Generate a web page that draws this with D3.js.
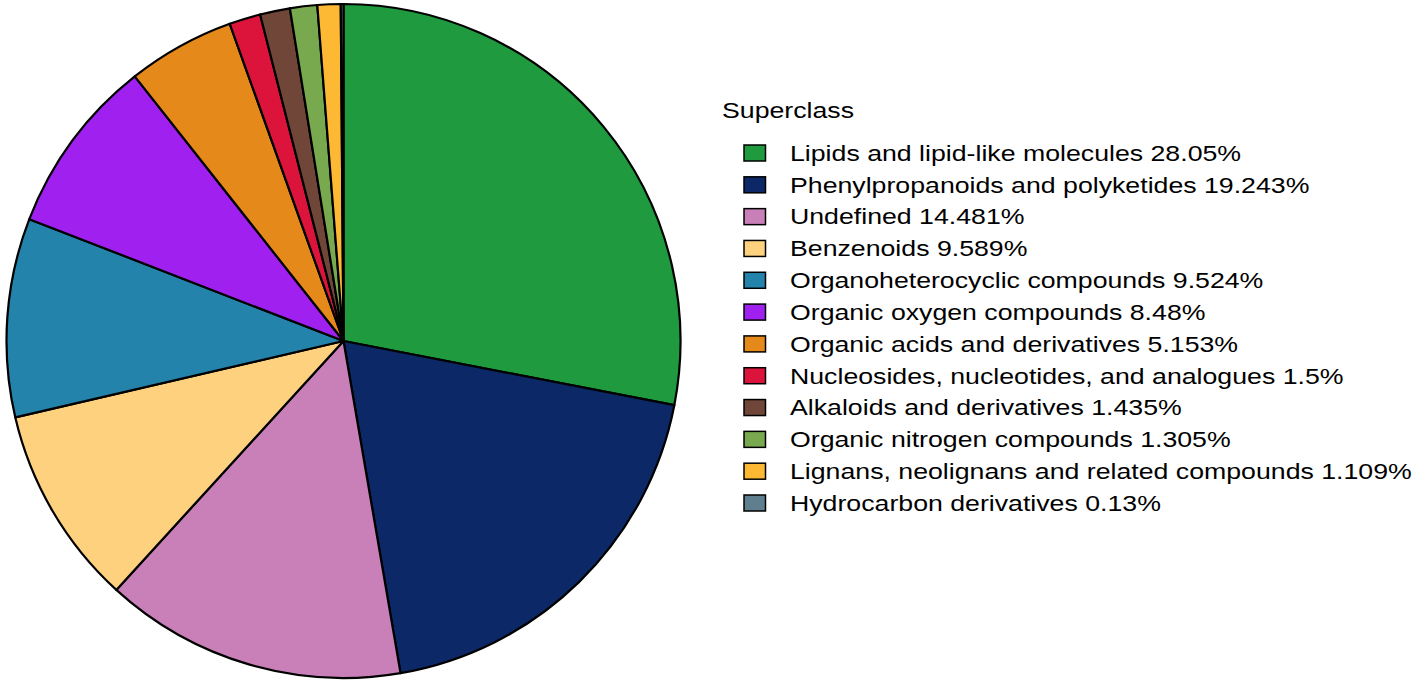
<head>
<script src="https://d3js.org/d3.v7.js"></script>
</head>
<body style="margin:0;background:#fff">
<div id="content"></div>
<script>
const categories = ["Lipids and lipid-like molecules", "Phenylpropanoids and polyketides", "Undefined",
  "Benzenoids", "Organoheterocyclic compounds", "Organic oxygen compounds", "Organic acids and derivatives",
  "Nucleosides, nucleotides, and analogues", "Alkaloids and derivatives", "Organic nitrogen compounds",
  "Lignans, neolignans and related compounds", "Hydrocarbon derivatives"];
const percents = [28.05, 19.243, 14.481, 9.589, 9.524, 8.48, 5.153, 1.5, 1.435, 1.305, 1.109, 0.13];
const colours = ["#1f9a3e", "#0c2866", "#c97fb8", "#fdd17e", "#2383aa", "#a020f0", "#e58a1a",
  "#dc143c", "#6f4637", "#78a94e", "#fdb934", "#5f7f8f"];

const width = 1417, height = 683;
const cx = 343.5, cy = 341, radius = 337;
// the legend font in the original is wider than Arial/Liberation
const stretch = 1.214;

let svg = d3.select("#content").append("svg")
  .attr("width", width).attr("height", height)
  .style("font-family", "'Liberation Sans', Arial, sans-serif");

const pie = d3.pie().sort(null).value(d => d);
const arc = d3.arc().innerRadius(0).outerRadius(radius);
const colour = d3.scaleOrdinal().domain(categories).range(colours);

svg.append("g")
  .attr("transform", `translate(${cx},${cy})`)
  .selectAll("path")
  .data(pie(percents))
  .enter()
  .append("path")
  .attr("d", arc)
  .attr("fill", (d, i) => colour(categories[i]))
  .attr("stroke", "#000")
  .attr("stroke-width", 2.2)
  .attr("stroke-linejoin", "round");

// legend
const legend = svg.append("g");
legend.append("text")
  .attr("transform", `translate(722,118) scale(${stretch},1)`)
  .attr("font-size", "22px")
  .text("Superclass");

const rowY = d3.scalePoint().domain(categories).range([153, 503]);

let rows = legend.selectAll("g.row")
  .data(categories)
  .enter()
  .append("g")
  .attr("class", "row")
  .attr("transform", d => `translate(0,${rowY(d)})`);

rows.append("rect")
  .attr("x", 744).attr("y", -8)
  .attr("width", 21.5).attr("height", 16)
  .attr("fill", d => colour(d))
  .attr("stroke", "#000").attr("stroke-width", 1.5);

rows.append("text")
  .attr("transform", `translate(790,7.8) scale(${stretch},1)`)
  .attr("font-size", "22px")
  .text((d, i) => `${d} ${percents[i]}%`);
</script>
</body>
